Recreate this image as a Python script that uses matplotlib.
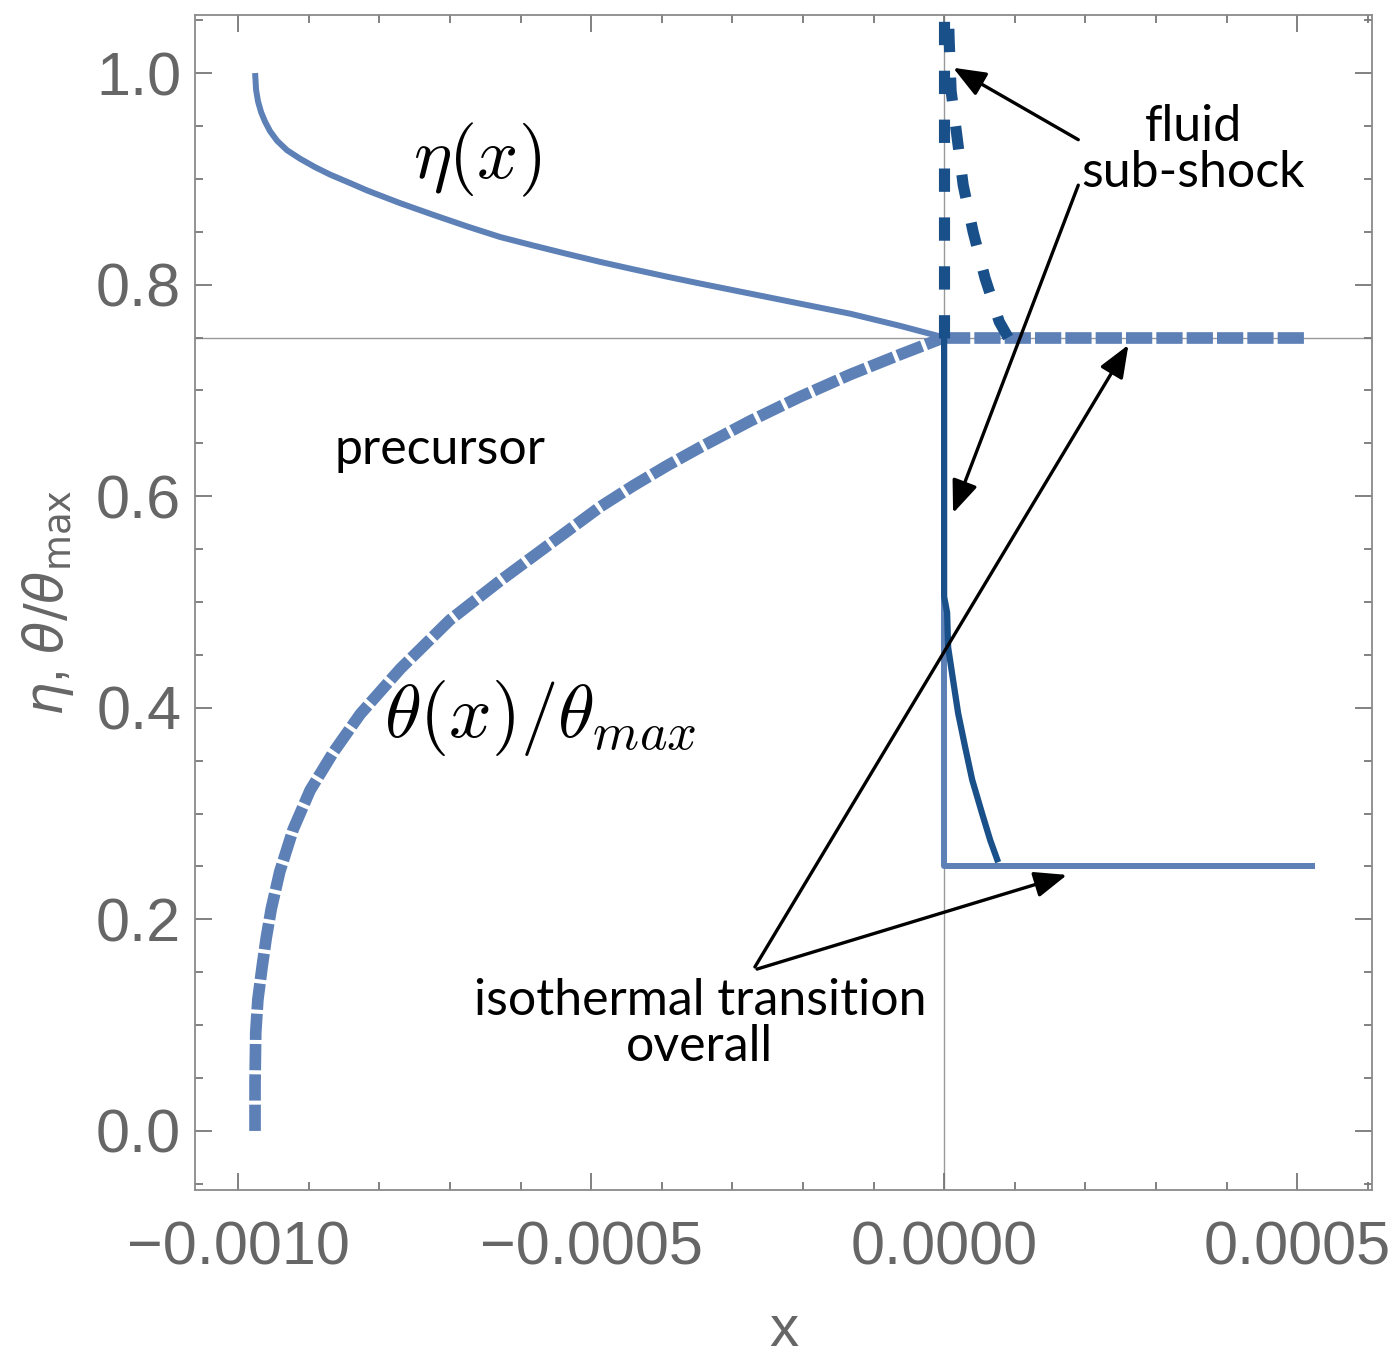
import matplotlib
matplotlib.use("Agg")
import matplotlib.pyplot as plt
import numpy as np

# eta(x) in the precursor (x in units of 1e-4)
eta_x = [-9.759, -9.745, -9.717, -9.674, -9.618, -9.547, -9.448, -9.306, -9.122,
         -8.909, -8.697, -8.414, -8.173, -7.705, -7.238, -6.756, -6.289, -5.822,
         -5.340, -4.873, -4.405, -3.924, -3.456, -2.748, -2.040, -1.331, -0.623, 0.0]
eta_y = [1.0, 0.984, 0.973, 0.963, 0.954, 0.945, 0.936, 0.927, 0.919,
         0.911, 0.904, 0.896, 0.889, 0.877, 0.866, 0.855, 0.845, 0.837,
         0.829, 0.8215, 0.8145, 0.8075, 0.801, 0.7915, 0.782, 0.7725, 0.761, 0.75]

# theta(x)/theta_max in the precursor
th_x = [-9.76, -9.76, -9.75, -9.72, -9.66, -9.60, -9.53, -9.41, -9.22, -8.98,
        -8.65, -8.27, -7.70, -7.00, -6.29, -5.58, -4.87, -4.40, -3.92, -3.46,
        -2.75, -2.04, -1.33, -0.62, 0.0]
th_y = [0.0, 0.045, 0.093, 0.124, 0.155, 0.183, 0.210, 0.245, 0.285, 0.322,
        0.358, 0.394, 0.437, 0.483, 0.520, 0.555, 0.590, 0.610, 0.629, 0.646,
        0.671, 0.694, 0.715, 0.734, 0.75]

# downstream of x = 0 (x in units of 1e-4)
eta_down_x = [0.0, 0.0, 5.25]
eta_down_y = [0.75, 0.25, 0.25]
th_down_x = [0.0, 5.11]
th_down_y = [0.75, 0.75]

# fluid sub-shock (x in units of 1e-5)
sub_th_vert_x = [0.0, 0.0]
sub_th_vert_y = [0.75, 1.06]
sub_th_x = [9.07, 7.8, 5.8, 4.1, 2.7, 1.84, 0.99, 0.71, 0.6]
sub_th_y = [0.75, 0.765, 0.806, 0.85, 0.894, 0.939, 0.983, 1.032, 1.06]
sub_eta_x = [0.0, 0.0, 0.42, 0.57, 1.27, 1.98, 2.97, 3.97, 5.38, 6.52, 7.65]
sub_eta_y = [0.75, 0.505, 0.49, 0.457, 0.426, 0.395, 0.363, 0.332, 0.30, 0.275, 0.254]

light = '#5d80b6'
dark = '#1a5089'
gray = '#666666'

fig = plt.figure(figsize=(13.98, 13.57), dpi=100)
ax = fig.add_axes([0.1395, 0.1231, 0.8419, 0.8658])

ax.axhline(0.75, color='#999999', lw=1.0, zorder=1)
ax.axvline(0.0, color='#999999', lw=1.0, zorder=1)

ax.plot(np.array(eta_x) * 1e-4, eta_y, color=light, lw=4.3, solid_capstyle='butt',
        solid_joinstyle='round', zorder=2)
ax.plot(np.array(eta_down_x) * 1e-4, eta_down_y, color=light, lw=4.3, solid_capstyle='butt', zorder=2)
ax.plot(np.array(th_x) * 1e-4, th_y, color=light, lw=8.4, dashes=(2.25, 0.35), zorder=2)
ax.plot(np.array(th_down_x) * 1e-4, th_down_y, color=light, lw=8.4, dashes=(2.25, 0.35), zorder=2)

ax.plot(np.array(sub_th_vert_x) * 1e-5, sub_th_vert_y, color=dark, lw=8.0, dashes=(2.1, 2.3), zorder=3)
ax.plot(np.array(sub_th_x) * 1e-5, sub_th_y, color=dark, lw=8.0, dashes=(2.1, 2.3), zorder=3)
ax.plot(np.array(sub_eta_x) * 1e-5, sub_eta_y, color=dark, lw=4.5, solid_capstyle='butt',
        solid_joinstyle='round', zorder=3)

ax.set_xlim(-0.001061, 0.000606)
ax.set_ylim(-0.0558, 1.0548)
ax.set_xticks([-0.0010, -0.0005, 0.0, 0.0005])
ax.set_xticklabels(['\u22120.0010', '\u22120.0005', '0.0000', '0.0005'])
ax.set_xticks(np.arange(-0.0010, 0.00061, 0.0001), minor=True)
ax.set_yticks([0.0, 0.2, 0.4, 0.6, 0.8, 1.0])
ax.set_yticklabels(['0.0', '0.2', '0.4', '0.6', '0.8', '1.0'])
ax.set_yticks(np.arange(-0.05, 1.051, 0.05), minor=True)

for s in ax.spines.values():
    s.set_color('#8a8a8a')
    s.set_linewidth(1.3)
ax.tick_params(which='both', direction='in', top=True, right=True, color='#777777', width=1.3)
ax.tick_params(which='major', length=12)
ax.tick_params(which='minor', length=6)
ax.tick_params(axis='x', which='major', pad=22, labelsize=44, labelcolor=gray)
ax.tick_params(axis='y', which='major', pad=10, labelsize=44, labelcolor=gray)
for lab in ax.get_xticklabels() + ax.get_yticklabels():
    lab.set_fontfamily('Liberation Sans')

ax.set_xlabel('x', fontsize=42, color=gray, family='Liberation Sans', labelpad=19)
ax.set_ylabel(r'$\eta$, $\theta/\theta_{\mathrm{max}}$', fontsize=38, color=gray,
              family='Liberation Sans', math_fontfamily='dejavusans', labelpad=14)

ax.text(-6.61e-4, 0.918, r'$\eta(x)$', fontsize=52, math_fontfamily='cm', ha='center', va='center')
ax.text(-7.94e-4, 0.39, r'$\theta(x)/\theta_{max}$', fontsize=54, math_fontfamily='cm', ha='left', va='center')

lbl = dict(fontsize=36, family='Lato', ha='center', va='center', linespacing=1.0)
ax.text(-7.14e-4, 0.644, 'precursor', **lbl)
ax.text(3.53e-4, 0.927, 'fluid\nsub-shock', **lbl)
ax.text(-3.46e-4, 0.101, 'isothermal transition\noverall', **lbl)

arrow = dict(arrowstyle='-|>,head_length=0.55,head_width=0.22', mutation_scale=36,
             color='black', lw=2.4, shrinkA=0, shrinkB=0)
ax.annotate('', xy=(1.27e-5, 1.005), xytext=(1.90e-4, 0.937), arrowprops=arrow)
ax.annotate('', xy=(1.27e-5, 0.584), xytext=(1.90e-4, 0.894), arrowprops=arrow)
ax.annotate('', xy=(2.61e-4, 0.743), xytext=(-2.68e-4, 0.155), arrowprops=arrow)
ax.annotate('', xy=(1.74e-4, 0.242), xytext=(-2.65e-4, 0.153), arrowprops=arrow)

fig.savefig('out.png', dpi=100)
